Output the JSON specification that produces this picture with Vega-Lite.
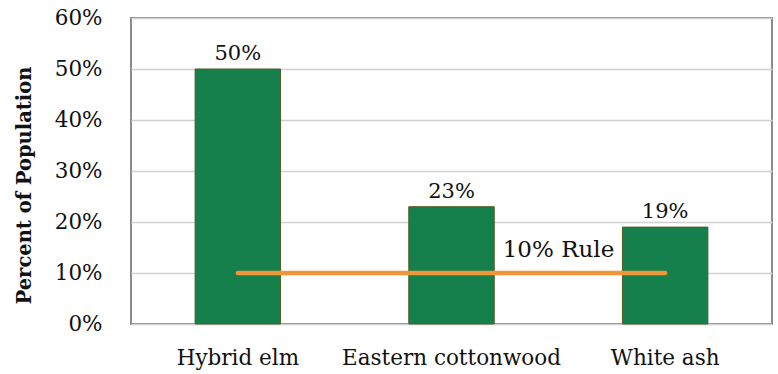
{
  "$schema": "https://vega.github.io/schema/vega-lite/v6.json",
  "autosize": {"type": "none"},
  "width": 641,
  "height": 306,
  "padding": {"left": 131, "top": 18, "right": 6, "bottom": 50},
  "background": "white",
  "config": {
    "view": {"stroke": "#8c8c8c", "strokeWidth": 2},
    "font": "DejaVu Serif"
  },
  "datasets": {
    "bars": [
      {"species": "Hybrid elm", "pct": 0.50},
      {"species": "Eastern cottonwood", "pct": 0.23},
      {"species": "White ash", "pct": 0.19}
    ],
    "rule": [
      {"from": "Hybrid elm", "to": "White ash", "mid": "Eastern cottonwood", "v": 0.10, "label": "10% Rule"}
    ]
  },
  "layer": [
    {
      "data": {"name": "bars"},
      "mark": {"type": "bar", "color": "#15804B", "stroke": "#4E5E22", "strokeWidth": 1},
      "encoding": {
        "x": {
          "field": "species", "type": "nominal",
          "scale": {"domain": ["Hybrid elm", "Eastern cottonwood", "White ash"], "paddingInner": 0.6, "paddingOuter": 0.3},
          "axis": {"title": null, "labelAngle": 0, "labelFont": "DejaVu Serif", "labelFontSize": 21.5, "labelColor": "#111", "labelPadding": 23, "labelLimit": 0, "ticks": false, "domain": false}
        },
        "y": {
          "field": "pct", "type": "quantitative",
          "scale": {"domain": [0, 0.6]},
          "axis": {
            "title": "Percent of Population", "titleFont": "DejaVu Serif", "titleFontSize": 19.5, "titleFontWeight": "bold", "titleColor": "#111", "titlePadding": 20, "titleY": 167,
            "format": ".0%", "values": [0, 0.1, 0.2, 0.3, 0.4, 0.5, 0.6],
            "labelFont": "DejaVu Serif", "labelFontSize": 21.5, "labelColor": "#111", "labelPadding": 29,
            "ticks": false, "domain": false,
            "grid": true, "gridColor": "#d0d0d0", "gridWidth": 1.5
          }
        }
      }
    },
    {
      "data": {"name": "bars"},
      "mark": {"type": "text", "baseline": "alphabetic", "dy": -9, "fontSize": 21, "font": "DejaVu Serif", "color": "#111"},
      "encoding": {
        "x": {"field": "species", "type": "nominal"},
        "y": {"field": "pct", "type": "quantitative"},
        "text": {"field": "pct", "type": "quantitative", "format": ".0%"}
      }
    },
    {
      "data": {"name": "rule"},
      "mark": {"type": "rule", "color": "#F0963A", "strokeWidth": 4.5, "strokeCap": "round"},
      "encoding": {
        "x": {"field": "from", "type": "nominal"},
        "x2": {"field": "to"},
        "y": {"field": "v", "type": "quantitative"}
      }
    },
    {
      "data": {"name": "rule"},
      "mark": {"type": "text", "baseline": "alphabetic", "dy": -16, "dx": 107, "fontSize": 23, "font": "DejaVu Serif", "color": "#111", "align": "center"},
      "encoding": {
        "x": {"field": "mid", "type": "nominal"},
        "y": {"field": "v", "type": "quantitative"},
        "text": {"field": "label"}
      }
    }
  ]
}
